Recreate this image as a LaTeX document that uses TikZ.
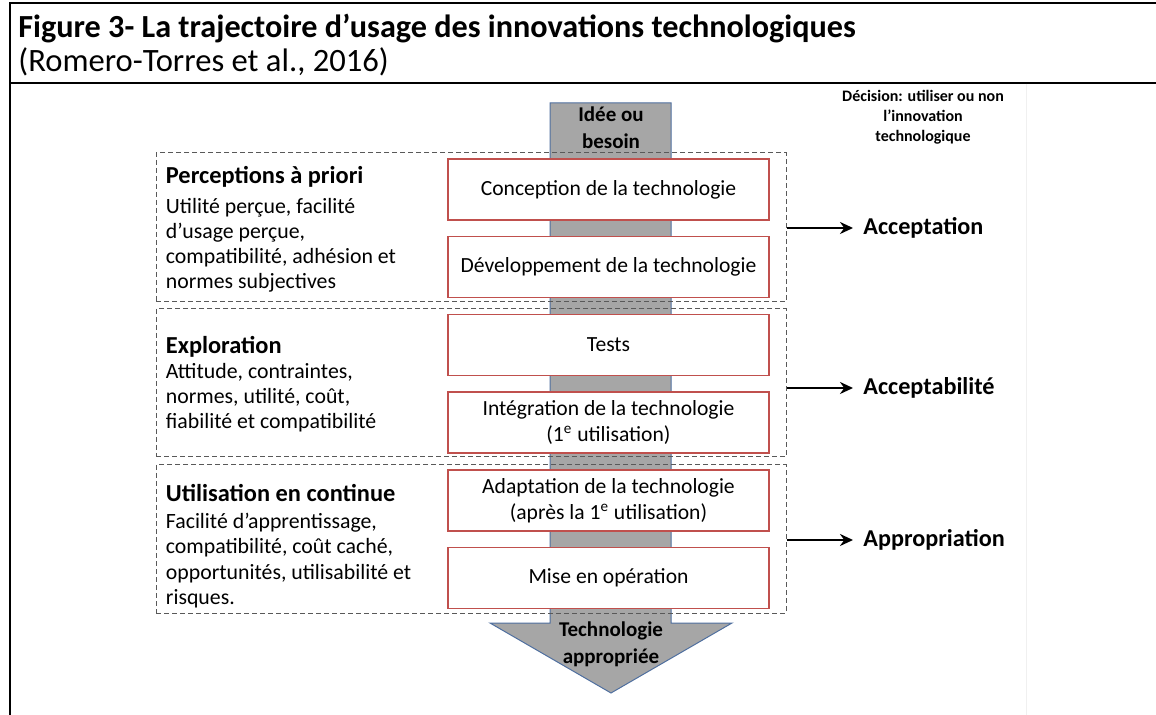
\documentclass[tikz,border=0pt]{standalone}
\usepackage{fontspec}
\setmainfont{Carlito}
\usetikzlibrary{positioning, arrows.meta, calc}
\definecolor{colStage}{HTML}{C0504D}
\definecolor{colFlow}{HTML}{A6A6A6}
\definecolor{strokeFlow}{HTML}{4F6F9F}
\definecolor{strokeGroup}{HTML}{595959}

\begin{document}
\begin{tikzpicture}[
				x=0.5pt, y=-0.5pt,
				% Node Styles
				stage/.style={draw=colStage, line width=0.9pt, fill=white, minimum width=160.5pt, minimum height=30.5pt, align=center, inner sep=2pt, font=\fontsize{10.8}{13}\selectfont},
				group/.style={draw=strokeGroup, dash pattern=on 2.5pt off 1.5pt, line width=0.5pt, minimum width=315pt, inner sep=0pt},
				desc/.style={anchor=west, align=left, inner sep=0pt, font=\fontsize{10.9}{12.6}\selectfont},
				result/.style={anchor=west, inner sep=0pt, font=\bfseries\fontsize{12.1}{14}\selectfont},
				flowtext/.style={align=center, inner sep=0pt, font=\bfseries\fontsize{10.5}{13.5}\selectfont},
				arrow/.style={-{Stealth[length=6.5pt, width=6pt]}, line width=1.1pt, black}
				]
				\useasboundingbox (0,0) rectangle (1156,715);
				
				%% ================= FRAME & CAPTION =================
				\draw[line width=1pt] (10,715) -- (10,3) -- (1156,3);
				\draw[line width=1pt] (10,83) -- (1156,83);
				\draw[gray!12, line width=0.5pt] (1026,84) -- (1026,715);
				\node[anchor=base west, inner sep=0pt, font=\bfseries\fontsize{16.1}{18}\selectfont] (title) at (18,38) {Figure 3- La trajectoire d’usage des innovations technologiques};
				\node[anchor=base west, inner sep=0pt, font=\fontsize{16.3}{18}\selectfont] (source) at (18,72) {(Romero-Torres et al., 2016)};
				
				%% ================= CENTRAL FLOW ARROW =================
				\draw[fill=colFlow, draw=strokeFlow, line width=0.5pt] (550,103) -- (671,103) -- (671,623) -- (732,623) -- (611,693) -- (490,623) -- (550,623) -- cycle;
				\node[flowtext] (idee) at (611,128) {Idée ou\\besoin};
				\node[flowtext] (techno) at (611,644) {Technologie\\appropriée};
				
				%% ================= GROUPS =================
				\node[group, minimum height=74.5pt] (grp1) at (471,227.5) {};
				\node[group, minimum height=74pt] (grp2) at (471,383) {};
				\node[group, minimum height=74pt] (grp3) at (471,539) {};
				
				% Stages
				\node[stage] (conception) at (608.5,189.5) {Conception de la technologie};
				\node[stage] (developpement) at (608.5,267) {Développement de la technologie};
				\node[stage] (tests) at (608.5,345) {Tests};
				\node[stage] (integration) at (608.5,422.5) {Intégration de la technologie\\(1\textsuperscript{e} utilisation)};
				\node[stage] (adaptation) at (608.5,500.5) {Adaptation de la technologie\\(après la 1\textsuperscript{e} utilisation)};
				\node[stage] (operation) at (608.5,578) {Mise en opération};
				
				% Descriptions
				\node[desc] (perceptions) at ([xshift=5pt, yshift=-1pt]grp1.west) {{\bfseries\fontsize{12.2}{12.6}\selectfont Perceptions à priori}\\[2pt]Utilité perçue, facilité\\d’usage perçue,\\compatibilité, adhésion et\\normes subjectives};
				\node[desc] (exploration) at ([xshift=5pt, yshift=-0.5pt]grp2.west) {{\bfseries\fontsize{12.2}{12.6}\selectfont Exploration}\\Attitude, contraintes,\\normes, utilité, coût,\\fiabilité et compatibilité};
				\node[desc] (continue) at ([xshift=5pt, yshift=-3.5pt]grp3.west) {{\bfseries\fontsize{12.2}{12.6}\selectfont Utilisation en continue}\\[1pt]Facilité d’apprentissage,\\compatibilité, coût caché,\\opportunités, utilisabilité et\\risques.};
				
				%% ================= DECISIONS =================
				\node[align=center, inner sep=0pt, font=\bfseries\fontsize{8}{10}\selectfont] (decision) at (923,117) {Décision: utiliser ou non\\l’innovation\\technologique};
				\node[result] (acceptation) at (863,228) {Acceptation};
				\node[result] (acceptabilite) at (863,388) {Acceptabilité};
				\node[result] (appropriation) at (863,540) {Appropriation};
				
				\draw[arrow] (acceptation.west -| grp1.east) -- ([xshift=-5pt]acceptation.west);
				\draw[arrow] (acceptabilite.west -| grp2.east) -- ([xshift=-5pt]acceptabilite.west);
				\draw[arrow] (appropriation.west -| grp3.east) -- ([xshift=-5pt]appropriation.west);
				
			\end{tikzpicture}
\end{document}
